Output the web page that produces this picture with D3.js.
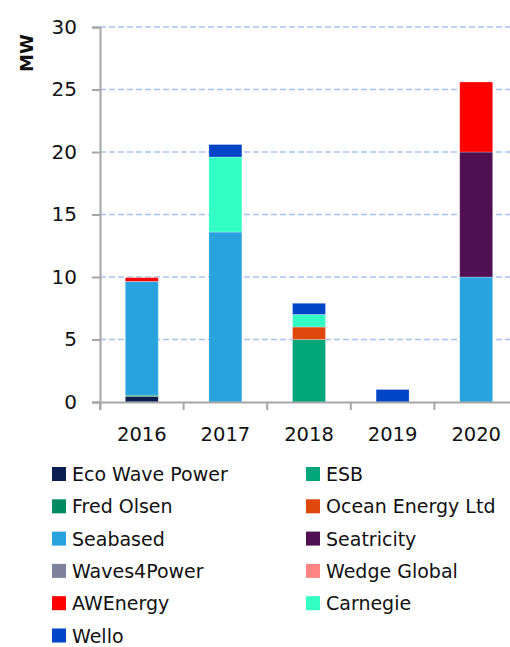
<!DOCTYPE html>
<html>
<head>
<meta charset="utf-8">
<script src="https://cdn.jsdelivr.net/npm/d3@7"></script>
<style>
body { margin: 0; background: #fff; }
svg { display: block; font-family: "DejaVu Sans", sans-serif; }
</style>
</head>
<body>
<script>
// data (MW)
const years = ["2016", "2017", "2018", "2019", "2020"];
const companies = ["Eco Wave Power", "ESB", "Fred Olsen", "Ocean Energy Ltd", "Seabased",
  "Seatricity", "Waves4Power", "Wedge Global", "AWEnergy", "Carnegie", "Wello"];
const colours = ["#0a1e50", "#00a67a", "#008c60", "#e0470d", "#29a3dd",
  "#4f0f50", "#7f829c", "#ff8585", "#ff0000", "#33ffc4", "#0044c8"];
const ecoWave      = [0.45, 0, 0, 0, 0];
const esb          = [0, 0, 5, 0, 0];
const fredOlsen    = [0.1, 0, 0, 0, 0];
const oceanEnergy  = [0, 0, 1, 0, 0];
const seabased     = [9.1, 13.6, 0, 0, 10];
const seatricity   = [0, 0, 0, 0, 10];
const waves4Power  = [0, 0, 0, 0, 0];
const wedgeGlobal  = [0, 0, 0, 0, 0];
const awEnergy     = [0.3, 0, 0, 0, 5.6];
const carnegie     = [0, 6.0, 1, 0, 0];
const wello        = [0, 1.0, 0.9, 1.0, 0];
const yTicks = [0, 5, 10, 15, 20, 25, 30];

const series = [ecoWave, esb, fredOlsen, oceanEnergy, seabased, seatricity,
  waves4Power, wedgeGlobal, awEnergy, carnegie, wello];

const table = years.map(function(y, i) {
  const row = { year: y };
  companies.forEach(function(c, j) { row[c] = series[j][i]; });
  return row;
});

const width = 510, height = 647;
const svg = d3.select("body").append("svg")
  .attr("width", width)
  .attr("height", height);

const x = d3.scaleBand().domain(years).range([100, 518]);
const y = d3.scaleLinear().domain([0, 30]).range([402, 27]);
const colour = d3.scaleOrdinal().domain(companies).range(colours);
const barW = 33;

// grid
svg.append("g").selectAll("line")
  .data(yTicks.slice(1))
  .enter().append("line")
  .attr("x1", 100).attr("x2", width)
  .attr("y1", function(d) { return y(d); })
  .attr("y2", function(d) { return y(d); })
  .attr("stroke", "#a9c2f5")
  .attr("stroke-width", 1.3)
  .attr("stroke-dasharray", "6,3");

// bars
const stack = d3.stack().keys(companies)(table);
svg.append("g").selectAll("g")
  .data(stack)
  .enter().append("g")
  .attr("fill", function(d) { return colour(d.key); })
  .selectAll("rect")
  .data(function(d) { return d.filter(function(p) { return p[1] - p[0] > 0; }); })
  .enter().append("rect")
  .attr("x", function(d) { return x(d.data.year) + (x.bandwidth() - barW) / 2; })
  .attr("width", barW)
  .attr("y", function(d) { return y(d[1]); })
  .attr("height", function(d) { return y(d[0]) - y(d[1]); })
  .attr("stroke", "rgba(255,255,255,0.35)")
  .attr("stroke-width", 0.8);

// y axis
const yAxis = svg.append("g")
  .attr("transform", "translate(100,0)")
  .call(d3.axisLeft(y).tickValues(yTicks).tickSize(8).tickPadding(15));
yAxis.select(".domain").attr("stroke", "#a6a6a6").attr("stroke-width", 2);
yAxis.selectAll(".tick line").attr("stroke", "#a6a6a6").attr("stroke-width", 2);
yAxis.selectAll(".tick text").attr("font-size", 20).attr("fill", "#111")
  .attr("font-family", "DejaVu Sans");

// x axis (ticks at band edges)
const xAxis = svg.append("g")
  .attr("transform", "translate(0,402)")
  .call(d3.axisBottom(x).tickSize(8).tickFormat(""));
xAxis.select(".domain").attr("stroke", "#a6a6a6").attr("stroke-width", 2);
xAxis.selectAll(".tick").attr("transform", function(d) {
  return "translate(" + x(d) + ",0)";
});
xAxis.selectAll(".tick line").attr("stroke", "#a6a6a6").attr("stroke-width", 2);

svg.append("g").selectAll("text")
  .data(years)
  .enter().append("text")
  .attr("x", function(d) { return x(d) + x.bandwidth() / 2; })
  .attr("y", 441)
  .attr("text-anchor", "middle")
  .attr("font-size", 19.5)
  .attr("fill", "#111")
  .text(function(d) { return d; });

// axis title
svg.append("text")
  .attr("transform", "translate(33,53) rotate(-90)")
  .attr("text-anchor", "middle")
  .attr("font-size", 18)
  .attr("font-weight", "bold")
  .attr("fill", "#111")
  .text("MW");

// legend
const legend = svg.append("g").selectAll("g")
  .data(companies)
  .enter().append("g")
  .attr("transform", function(d, i) {
    return "translate(" + (i % 2 === 0 ? 52 : 306) + "," + (474 + Math.floor(i / 2) * 32.3) + ")";
  });
legend.append("rect")
  .attr("x", 0).attr("y", -7)
  .attr("width", 14).attr("height", 14)
  .attr("fill", function(d) { return colour(d); });
legend.append("text")
  .attr("x", 20).attr("y", 7)
  .attr("font-size", 19)
  .attr("fill", "#111")
  .text(function(d) { return d; });
</script>
</body>
</html>
